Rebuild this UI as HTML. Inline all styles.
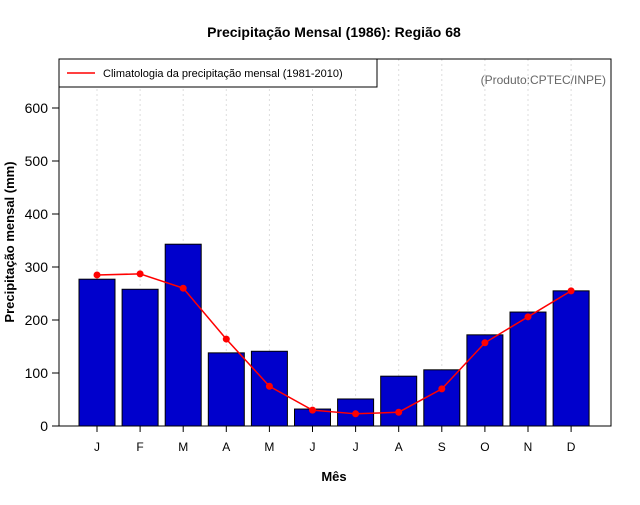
<!DOCTYPE html>
<html><head><meta charset="utf-8"><style>
body{margin:0;background:#fff;}
svg text{font-family:"Liberation Sans",Arial,sans-serif;}
</style></head><body>
<svg width="640" height="500" xmlns="http://www.w3.org/2000/svg">
<text x="334" y="37" text-anchor="middle" font-size="14" font-weight="bold">Precipitação Mensal (1986): Região 68</text>
<g id="grid"></g>
<g id="bars"></g>
<g id="line"></g>
<rect x="59" y="59" width="552" height="367" fill="none" stroke="#000"/>
<g id="yaxis"></g>
<g id="xaxis"></g>
<text x="334" y="481" text-anchor="middle" font-size="13" font-weight="bold">Mês</text>
<text transform="translate(14,242) rotate(-90)" text-anchor="middle" font-size="13" font-weight="bold">Precipitação mensal (mm)</text>
<g>
<rect x="59" y="59" width="318" height="28" fill="#fff" stroke="#000"/>
<line x1="67" y1="73" x2="95" y2="73" stroke="#f00" stroke-width="1.5"/>
<text x="103" y="77" font-size="11">Climatologia da precipitação mensal (1981-2010)</text>
</g>
<text x="606" y="84" text-anchor="end" font-size="12" fill="#666">(Produto:CPTEC/INPE)</text>
</svg>
<script>
const months=["J","F","M","A","M","J","J","A","S","O","N","D"];
const precip=[277,258,343,138,141,32,51,94,106,172,215,255];
const clim=[285,287,260,164,75,30,23,26,70,157,206,255];
const yTicks=[0,100,200,300,400,500,600];
const NS="http://www.w3.org/2000/svg";
const xs=i=>97+43.1*i, ys=v=>426-v*0.53;
function mk(t,a,p){const e=document.createElementNS(NS,t);for(const k in a)e.setAttribute(k,a[k]);document.getElementById(p).appendChild(e);return e;}
months.forEach((m,i)=>{
 const g=mk('line',{x1:xs(i),x2:xs(i),y1:59,y2:426,stroke:'#ddd','stroke-dasharray':'2,3'},'grid');
 
 
 const b=mk('rect',{x:xs(i)-18,y:ys(precip[i]),width:36,height:precip[i]*0.53,fill:'#0000cc',stroke:'#000'},'bars');
 
 
 mk('line',{x1:xs(i),x2:xs(i),y1:426,y2:432,stroke:'#000'},'xaxis');
 const t=mk('text',{x:xs(i),y:451,'text-anchor':'middle','font-size':12},'xaxis');t.textContent=m;
 
 
});
const pl=mk('polyline',{points:clim.map((v,i)=>xs(i)+','+ys(v)).join(' '),fill:'none',stroke:'#f00','stroke-width':1.5},'line');


clim.forEach((v,i)=>{const c=mk('circle',{cx:xs(i),cy:ys(v),r:3.5,fill:'#f00'},'line');
 
 });
yTicks.forEach(v=>{mk('line',{x1:52,x2:59,y1:ys(v),y2:ys(v),stroke:'#000'},'yaxis');
 const t=mk('text',{x:48,y:ys(v)+5,'text-anchor':'end','font-size':14},'yaxis');t.textContent=v;
 
 });
</script>
</body></html>
